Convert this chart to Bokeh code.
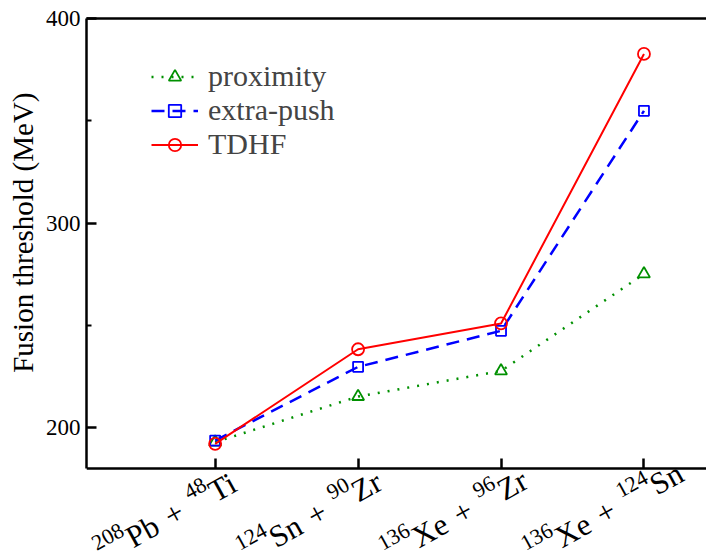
import math
from bokeh.plotting import figure
from bokeh.layouts import row
from bokeh.models import (Range1d, FixedTicker, LinearAxis, Legend, LegendItem,
                          ColumnDataSource)
from bokeh.core.properties import value
from bokeh.embed import file_html
from bokeh.resources import INLINE

# ---- data ----
proj_mass = ["208", "124", "136", "136"]
proj_sym = ["Pb", "Sn", "Xe", "Xe"]
targ_mass = ["48", "90", "96", "124"]
targ_sym = ["Ti", "Zr", "Zr", "Sn"]
proximity = [193.0, 215.3, 227.8, 275.2]
extra_push = [193.8, 229.8, 247.4, 354.9]
tdhf = [192.2, 238.4, 251.0, 382.7]
y_ticks = [200, 300, 400]
y_minor = [250, 350]
series_names = ["proximity", "extra-push", "TDHF"]
y_title = "Fusion threshold (MeV)"

xs = list(range(1, len(proj_sym) + 1))
FONT = "Liberation Serif"
GREEN = "#009000"
BLUE = "#0000ff"
RED = "#ff0000"

# axis spans 180..400; the frame continues below the x axis to hold the
# rotated category labels
Y_LO, Y_HI = 180, 400
Y_FRAME_LO = 137.15
xr = Range1d(0.1, 4.4375)
yr = Range1d(Y_FRAME_LO, Y_HI)
STRIP_W = 42
LEFT = 84
H = 556

p = figure(width=706 - STRIP_W, height=H, output_backend="svg",
           toolbar_location=None, x_range=xr, y_range=yr,
           min_border_left=LEFT - STRIP_W, min_border_right=0, min_border_top=18,
           min_border_bottom=0)
p.outline_line_color = None
p.xgrid.visible = False
p.ygrid.visible = False

src = ColumnDataSource(dict(x=xs, prox=proximity, push=extra_push, tdhf=tdhf))

l1 = p.line("x", "prox", source=src, line_color=GREEN, line_width=2.5, line_dash="2 8")
s1 = p.scatter("x", "prox", source=src, marker="triangle", size=12,
               line_color=GREEN, line_width=1.8, fill_color=None)
l2 = p.line("x", "push", source=src, line_color=BLUE, line_width=2.5, line_dash="13 8")
s2 = p.scatter("x", "push", source=src, marker="square", size=10,
               line_color=BLUE, line_width=1.8, fill_color=None)
l3 = p.line("x", "tdhf", source=src, line_color=RED, line_width=2)
s3 = p.scatter("x", "tdhf", source=src, marker="circle", size=12,
               line_color=RED, line_width=1.8, fill_color=None)

# ---- axes ----
ax = p.xaxis[0]
ax.fixed_location = Y_LO
ax.ticker = FixedTicker(ticks=xs)
ax.major_label_overrides = {x: "" for x in xs}
ax.major_label_text_font_size = "0px"
ax.major_label_standoff = 0
ax.minor_tick_line_color = None
ax.major_tick_in = 10
ax.major_tick_out = 0
ax.major_tick_line_width = 2.5
ax.axis_line_width = 2.5

ay = p.yaxis[0]
ay.bounds = (Y_LO, Y_HI)
ay.ticker = FixedTicker(ticks=y_ticks, minor_ticks=y_minor)
ay.major_tick_in = 10
ay.major_tick_out = 0
ay.minor_tick_in = 5
ay.minor_tick_out = 0
ay.major_tick_line_width = 2.5
ay.minor_tick_line_width = 2
ay.axis_line_width = 2.5
ay.major_label_text_font = FONT
ay.major_label_text_font_size = "23px"
ay.major_label_text_color = "black"
ay.major_label_standoff = 6

top = LinearAxis(ticker=FixedTicker(ticks=[]), major_label_text_font_size="0px",
                 major_tick_line_color=None, minor_tick_line_color=None,
                 axis_line_width=2.5)
p.add_layout(top, "above")

# ---- legend ----
legend = Legend(items=[LegendItem(label=series_names[0], renderers=[l1, s1]),
                       LegendItem(label=series_names[1], renderers=[l2, s2]),
                       LegendItem(label=series_names[2], renderers=[l3, s3])],
                location=(65, 395), padding=0, margin=0, spacing=0,
                glyph_width=47, glyph_height=31, label_height=31,
                label_standoff=10, label_text_line_height=1.0,
                label_text_font=FONT, label_text_font_size="30px",
                border_line_color=None, background_fill_alpha=0)
p.add_layout(legend)

# ---- rotated category labels (with real superscripts) below the axis ----
CHAR_W = {"P": .556, "b": .5, "S": .556, "n": .5, "X": .722, "e": .444,
          "T": .611, "i": .278, "Z": .611, "r": .333, "+": .564}


def tw(s):
    return sum(CHAR_W.get(c, 0.5) for c in s)


F, SUP = 31, 22          # main / superscript font size (px)
RAISE = 12               # superscript raise (px)
GAP = 11                 # space around "+" (px)
AX, AY = -87.0, 70.5     # baseline origin of first symbol rel. to tick / x axis
ang = math.radians(29)
ux, uy = math.cos(ang), -math.sin(ang)
upx, upy = -math.sin(ang), -math.cos(ang)

main_rows = dict(x=[], xo=[], yo=[], t=[])
sup_rows = dict(x=[], xo=[], yo=[], t=[])


def put(rows, x, d, r, t):
    rows["x"].append(x)
    rows["xo"].append(AX + d * ux + r * upx)
    rows["yo"].append(AY + d * uy + r * upy)
    rows["t"].append(t)


for x, m1, s1_, m2, s2_ in zip(xs, proj_mass, proj_sym, targ_mass, targ_sym):
    put(sup_rows, x, -tw(m1) * SUP, RAISE, m1)
    put(main_rows, x, 0.0, 0.0, s1_)
    d_plus = tw(s1_) * F + GAP
    put(main_rows, x, d_plus, 0.0, "+")
    d_sup2 = d_plus + tw("+") * F + GAP
    put(sup_rows, x, d_sup2, RAISE, m2)
    put(main_rows, x, d_sup2 + tw(m2) * SUP, 0.0, s2_)

for rows, size in ((main_rows, F), (sup_rows, SUP)):
    rows["y"] = [Y_LO] * len(rows["x"])
    p.text(x="x", y="y", text="t", x_offset="xo", y_offset="yo",
           source=ColumnDataSource(rows), angle=ang,
           text_align="left", text_baseline="alphabetic",
           text_font=value(FONT), text_font_size=value(f"{size}px"),
           text_color="black")

# ---- y-axis title in a narrow strip at the left ----
st = figure(width=STRIP_W, height=H, output_backend="svg", toolbar_location=None,
            x_range=Range1d(0, 1), y_range=yr,
            x_axis_location=None, y_axis_location=None,
            min_border_left=0, min_border_right=0, min_border_top=18,
            min_border_bottom=0)
st.outline_line_color = None
st.xgrid.visible = False
st.ygrid.visible = False
st.text(x=[0], y=[(Y_LO + Y_HI) / 2], text=[y_title], angle=math.pi / 2,
        x_offset=22, y_offset=-11, text_align="center", text_baseline="alphabetic",
        text_font=value(FONT), text_font_size=value("29px"), text_color="black")

layout = row(st, p, spacing=0)
open("out.html", "w").write(file_html(layout, INLINE))
